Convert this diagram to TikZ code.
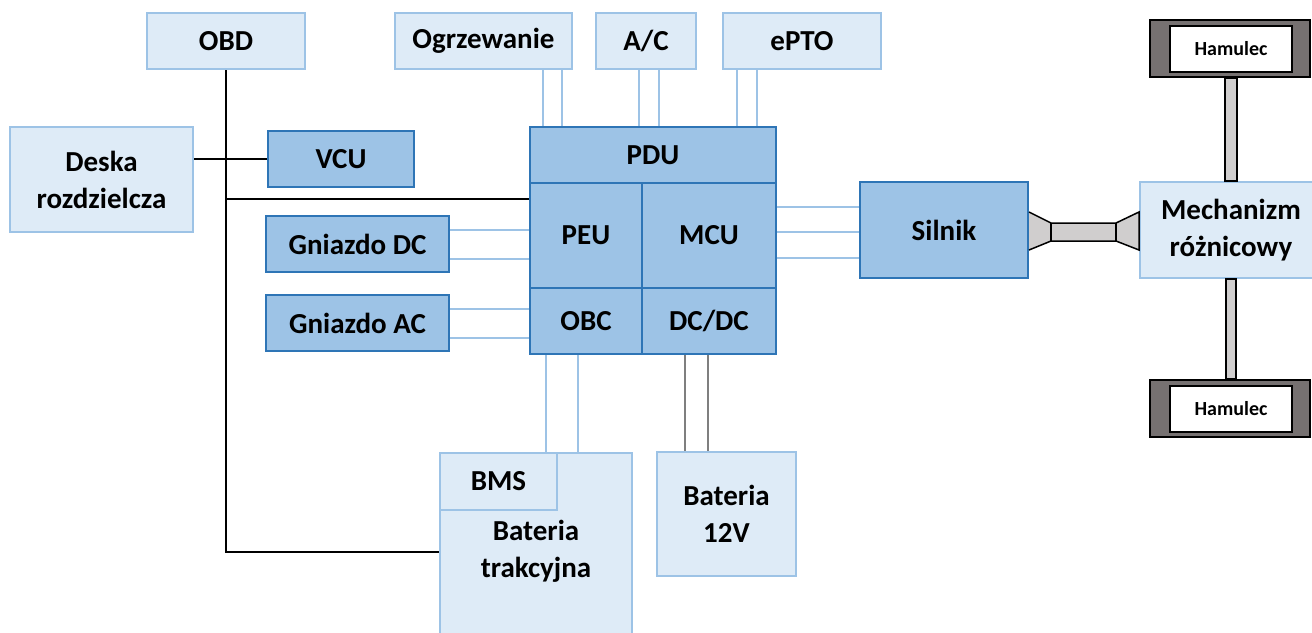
\documentclass[tikz,border=0pt]{standalone}
\usepackage{fontspec}
\setmainfont{Carlito}
\usetikzlibrary{calc}
\definecolor{lightfill}{HTML}{DEEBF7}
\definecolor{lightline}{HTML}{9DC3E6}
\definecolor{darkfill}{HTML}{9DC3E6}
\definecolor{darkline}{HTML}{2E75B6}
\definecolor{brakegray}{HTML}{767171}
\definecolor{shaftgray}{HTML}{D0CECE}
\definecolor{wiregray}{HTML}{7F7F7F}
\pgfdeclarelayer{bg}
\pgfsetlayers{bg,main}
\begin{document}
\begin{tikzpicture}[x=1pt,y=-1pt,
  sz/.style 2 args={minimum width=#1pt,minimum height=#2pt},
  lbox/.style={draw=lightline,fill=lightfill,line width=2pt,inner sep=0pt,align=center,
    font=\bfseries\fontsize{29}{37}\selectfont},
  dbox/.style={lbox,draw=darkline,fill=darkfill},
  brakeout/.style={draw=black,fill=brakegray,line width=2pt,inner sep=0pt},
  brakein/.style={draw=black,fill=white,line width=2pt,inner sep=0pt,
    font=\bfseries\fontsize{20}{24}\selectfont},
  blwire/.style={draw=lightline,line width=2pt},
  bkwire/.style={draw=black,line width=2pt},
  grwire/.style={draw=wiregray,line width=2pt},
  shaft/.style={draw=black,fill=shaftgray,line width=1.5pt,line join=miter}]
\useasboundingbox (0,0) rectangle (1312,632);
\clip (0,0) rectangle (1312,632);

% top boxes
\node[lbox,sz={158}{56}] (obd) at (226,41) {OBD};
\node[lbox,sz={177}{56}] (ogrz) at (483.5,41) {Ogrzewanie};
\node[lbox,sz={100}{56}] (ac) at (646,41) {A/C};
\node[lbox,sz={158}{56}] (epto) at (802,41) {ePTO};

% left
\node[lbox,sz={183}{105}] (deska) at (101.5,179.5) {Deska\\rozdzielcza};
\node[dbox,sz={146}{56}] (vcu) at (341,159) {VCU};
\node[dbox,sz={183}{56}] (gdc) at (357.5,244) {Gniazdo DC};
\node[dbox,sz={183}{56}] (gac) at (357.5,323) {Gniazdo AC};

% central unit
\node[dbox,sz={246}{56}] (pdu) at (653,155) {PDU};
\node[dbox,sz={112}{105}] (peu) at (586,235.5) {PEU};
\node[dbox,sz={134}{105}] (mcu) at (709,235.5) {MCU};
\node[dbox,sz={112}{66}] (obc) at (586,321) {OBC};
\node[dbox,sz={134}{66}] (dcdc) at (709,321) {DC/DC};

% right
\node[dbox,sz={168}{96}] (silnik) at (944,230) {Silnik};
\node[lbox,sz={182}{96}] (mech) at (1231,230) {Mechanizm\\różnicowy};
\node[brakeout,sz={160}{57}] (ham1o) at (1230,48.5) {};
\node[brakein,sz={122}{46}] (ham1) at (1231,49) {Hamulec};
\node[brakeout,sz={160}{57}] (ham2o) at (1230,408.5) {};
\node[brakein,sz={122}{46}] (ham2) at (1231,409) {Hamulec};

% batteries
\node[lbox,sz={192}{197}] (bat) at (536,551.5) {Bateria\\trakcyjna};
\node[lbox,sz={117}{57}] (bms) at (498.5,481.5) {BMS};
\node[lbox,sz={139}{124}] (b12) at (726.5,514) {Bateria\\12V};

\coordinate (j1) at (obd.south |- 0,199);

\begin{pgfonlayer}{bg}
  % black signal lines
  \draw[bkwire] (obd.south) |- (bat.west);
  \draw[bkwire] (deska.east |- vcu.west) -- (vcu.west);
  \draw[bkwire] (j1) -- (j1 -| peu.west);
  % top power pairs
  \foreach \s in {59.5,78.5}
    \draw[blwire] ([xshift=\s pt]ogrz.south) -- ([xshift=\s pt]ogrz.south |- pdu.north);
  \foreach \s in {-7,13}
    \draw[blwire] ([xshift=\s pt]ac.south) -- ([xshift=\s pt]ac.south |- pdu.north);
  \foreach \s in {-65,-45}
    \draw[blwire] ([xshift=\s pt]epto.south) -- ([xshift=\s pt]epto.south |- pdu.north);
  % sockets
  \foreach \s in {14.5,-14.5} {
    \draw[blwire] ([yshift=\s pt]gdc.east) -- ([yshift=\s pt]gdc.east -| peu.west);
    \draw[blwire] ([yshift=\s pt]gac.east) -- ([yshift=\s pt]gac.east -| obc.west);
  }
  % MCU to motor
  \foreach \s in {23,-2,-28}
    \draw[blwire] ([yshift=\s pt]silnik.west -| mcu.east) -- ([yshift=\s pt]silnik.west);
  % OBC to traction battery
  \foreach \s in {-40,-8}
    \draw[blwire] ([xshift=\s pt]obc.south) -- ([xshift=\s pt]obc.south |- bat.north);
  % DC/DC to 12V battery
  \foreach \s in {-24,-1}
    \draw[grwire] ([xshift=\s pt]dcdc.south) -- ([xshift=\s pt]dcdc.south |- b12.north);
\end{pgfonlayer}

% shafts
\draw[shaft] ([xshift=-5pt]ham1o.south) rectangle ([xshift=6pt]mech.north);
\draw[shaft] ([xshift=-5pt]mech.south) rectangle ([xshift=6pt]ham2o.north);
\draw[shaft] ($(silnik.east)+(0,-18)$) -- ($(silnik.east)+(22,-7)$) -- ($(mech.west)+(-23,-7)$)
  -- ($(mech.west)+(0,-18)$) -- ($(mech.west)+(0,20)$) -- ($(mech.west)+(-23,11)$)
  -- ($(silnik.east)+(22,11)$) -- ($(silnik.east)+(0,20)$);
\draw[shaft] ($(silnik.east)+(22,-7)$) -- ($(silnik.east)+(22,11)$);
\draw[shaft] ($(mech.west)+(-23,-7)$) -- ($(mech.west)+(-23,11)$);
\end{tikzpicture}
\end{document}
